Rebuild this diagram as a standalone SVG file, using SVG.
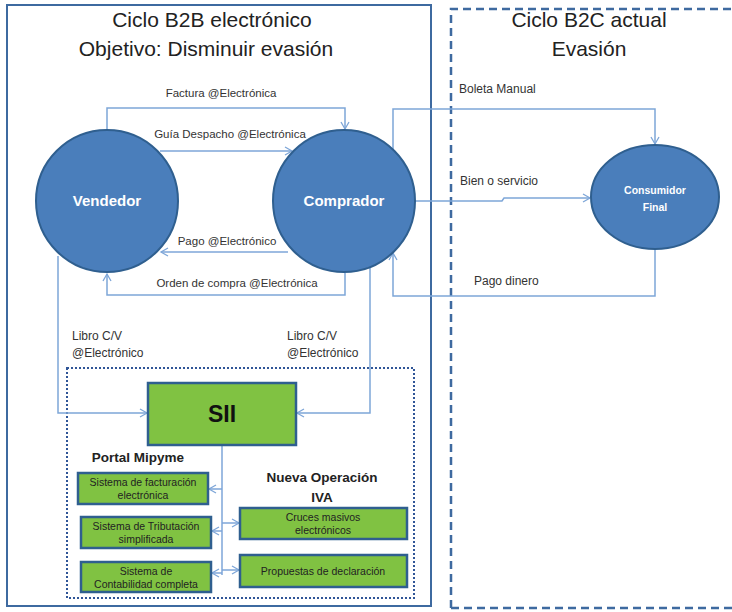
<svg xmlns="http://www.w3.org/2000/svg" width="732" height="612" viewBox="0 0 732 612">
<defs>
<style>
.title{font-family:"Liberation Sans",Arial,sans-serif;font-size:21px;fill:#222;text-anchor:middle}
.lbl{font-family:"Liberation Sans",Arial,sans-serif;font-size:11.5px;fill:#333}
.lbl2{font-family:"Liberation Sans",Arial,sans-serif;font-size:12px;fill:#333}
.node{fill:#4a7ebb;stroke:#2f5f8f;stroke-width:2}
.ntext{font-family:"Liberation Sans",Arial,sans-serif;font-weight:bold;fill:#fff;text-anchor:middle}
.gbox{fill:#80c242;stroke:#2f5f8f;stroke-width:2.5}
.gtext{font-family:"Liberation Sans",Arial,sans-serif;font-size:10.5px;fill:#222;text-anchor:middle}
.btext{font-family:"Liberation Sans",Arial,sans-serif;font-weight:bold;font-size:13.5px;fill:#222;text-anchor:middle}
.conn{fill:none;stroke:#7ea6d8;stroke-width:1.5}
</style>
<marker id="arr" markerWidth="10" markerHeight="10" refX="8" refY="5" orient="auto" markerUnits="userSpaceOnUse">
<path d="M1,1 L8,5 L1,9" fill="none" stroke="#7ea6d8" stroke-width="1.3"/>
</marker>
</defs>
<rect width="732" height="612" fill="#fff"/>

<g id="frames">
<rect x="7" y="5" width="424" height="601" fill="none" stroke="#3e6aa0" stroke-width="2"/>
<path d="M451,608 V9 H732 M451,608 H732" fill="none" stroke="#3e6aa0" stroke-width="2.5" stroke-dasharray="8,5"/>
<rect x="67" y="368" width="347" height="230" fill="none" stroke="#2f5597" stroke-width="2" stroke-dasharray="2,2"/>
</g>

<g id="titles">
<text class="title" x="212" y="27">Ciclo B2B electrónico</text>
<text class="title" x="206" y="56">Objetivo: Disminuir evasión</text>
<text class="title" x="589" y="27">Ciclo B2C actual</text>
<text class="title" x="589" y="56">Evasión</text>
</g>

<g id="connectors">
<path class="conn" d="M107,130 V108 H345 V129" marker-end="url(#arr)"/>
<path class="conn" d="M160,151 H292" marker-end="url(#arr)"/>
<path class="conn" d="M288,252 H161" marker-end="url(#arr)"/>
<path class="conn" d="M345,273 V295 H107 V274" marker-end="url(#arr)"/>
<path class="conn" d="M58,256 V413 H147" marker-end="url(#arr)"/>
<path class="conn" d="M370,267 V413 H297" marker-end="url(#arr)"/>
<path class="conn" d="M393,150 V109 H655 V144" marker-end="url(#arr)"/>
<path class="conn" d="M415,201 H502 L504,198 H590" marker-end="url(#arr)"/>
<path class="conn" d="M655,250 V296 H393 V253" marker-end="url(#arr)"/>
<path class="conn" d="M222,445 V575"/>
<path class="conn" d="M222,489 H209" marker-end="url(#arr)"/>
<path class="conn" d="M222,531 H212" marker-end="url(#arr)"/>
<path class="conn" d="M222,573 H212" marker-end="url(#arr)"/>
<path class="conn" d="M222,523 H239" marker-end="url(#arr)"/>
<path class="conn" d="M222,570 H239" marker-end="url(#arr)"/>
</g>

<g id="connector-labels">
<text class="lbl" x="221" y="97" text-anchor="middle">Factura @Electrónica</text>
<text class="lbl" x="230" y="138" text-anchor="middle">Guía Despacho @Electrónica</text>
<text class="lbl" x="227" y="245" text-anchor="middle">Pago @Electrónico</text>
<text class="lbl" x="237" y="287" text-anchor="middle">Orden de compra @Electrónica</text>
<text class="lbl2" x="72" y="340">Libro C/V</text>
<text class="lbl2" x="72" y="357">@Electrónico</text>
<text class="lbl2" x="287" y="340">Libro C/V</text>
<text class="lbl2" x="287" y="357">@Electrónico</text>
<text class="lbl2" x="459" y="93">Boleta Manual</text>
<text class="lbl2" x="460" y="185">Bien o servicio</text>
<text class="lbl2" x="474" y="285">Pago dinero</text>
</g>

<g id="vendedor">
<circle class="node" cx="107" cy="201" r="71"/>
<text class="ntext" x="107" y="206" font-size="15">Vendedor</text>
</g>
<g id="comprador">
<circle class="node" cx="344" cy="201" r="71"/>
<text class="ntext" x="344" y="206" font-size="15">Comprador</text>
</g>
<g id="consumidor">
<ellipse class="node" cx="655" cy="197" rx="64" ry="52"/>
<text class="ntext" x="655" y="194" font-size="10.5">Consumidor</text>
<text class="ntext" x="655" y="211" font-size="10.5">Final</text>
</g>

<g id="sii">
<rect class="gbox" x="148" y="383" width="148" height="62"/>
<text x="222" y="422" text-anchor="middle" font-family="Liberation Sans,Arial,sans-serif" font-weight="bold" font-size="23" fill="#111">SII</text>
</g>

<g id="portal-label">
<text class="btext" x="138" y="462">Portal Mipyme</text>
</g>
<g id="iva-label">
<text class="btext" x="322" y="482">Nueva Operación</text>
<text class="btext" x="322" y="502">IVA</text>
</g>

<g id="facturacion">
<rect class="gbox" x="78" y="473" width="130" height="31"/>
<text class="gtext" x="143" y="486">Sistema de facturación</text>
<text class="gtext" x="143" y="499">electrónica</text>
</g>
<g id="tributacion">
<rect class="gbox" x="81" y="517" width="130" height="31"/>
<text class="gtext" x="146" y="530">Sistema de Tributación</text>
<text class="gtext" x="146" y="543">simplificada</text>
</g>
<g id="contabilidad">
<rect class="gbox" x="81" y="562" width="130" height="30"/>
<text class="gtext" x="146" y="575">Sistema de</text>
<text class="gtext" x="146" y="588">Contabilidad completa</text>
</g>
<g id="cruces">
<rect class="gbox" x="240" y="508" width="167" height="31"/>
<text class="gtext" x="323" y="521" fill="#444">Cruces masivos</text>
<text class="gtext" x="323" y="534" fill="#444">electrónicos</text>
</g>
<g id="propuestas">
<rect class="gbox" x="240" y="555" width="167" height="32"/>
<text class="gtext" x="323" y="575">Propuestas de declaración</text>
</g>
</svg>
